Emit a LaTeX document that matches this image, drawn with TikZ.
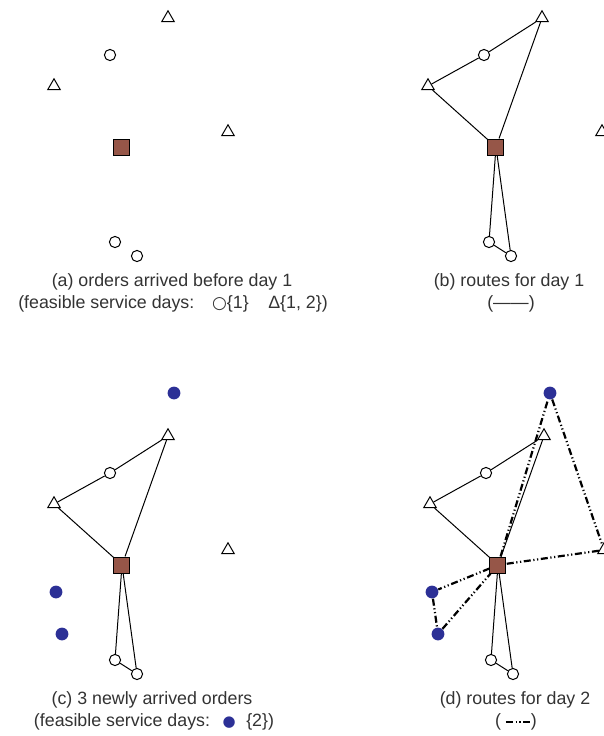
\documentclass[tikz,border=0pt]{standalone}
\usepackage{fontspec}
\setmainfont{Liberation Sans}
\newfontfamily\symfont{DejaVu Sans}
\usetikzlibrary{shapes.geometric}
\usetikzlibrary{calc}

\begin{document}
\begin{tikzpicture}[x=0.5pt,y=-0.5pt,
  font=\fontsize{8.9}{11}\selectfont,
  caption/.style={text=black!80},
  tri/.style={draw,regular polygon,regular polygon sides=3,inner sep=0pt,minimum size=7.2pt,fill=white,line width=0.5pt},
  circ/.style={draw,circle,inner sep=0pt,minimum size=5.6pt,fill=white,line width=0.5pt},
  depot/.style={draw,rectangle,inner sep=0pt,minimum size=8pt,fill=Brick,line width=0.5pt},
  neworder/.style={circle,inner sep=0pt,minimum size=6.4pt,fill=Navy},
  route1/.style={line width=0.5pt},
  route2/.style={line width=1.1pt,dash pattern=on 3.5pt off 1.3pt on 0.6pt off 1.3pt on 0.6pt off 1.3pt}]
\definecolor{Brick}{RGB}{150,86,72}
\definecolor{Navy}{RGB}{44,48,150}

\useasboundingbox (0,0) rectangle (604,736);

% orders known before day 1, one copy per panel
\foreach \p/\dx/\dy in {a/0/0,b/374/0,c/0/418,d/376/418}{
\begin{scope}[shift={(\dx,\dy)}]
  \node[tri]   (\p T1) at (168,18) {};
  \node[circ]  (\p C1) at (110,55) {};
  \node[tri]   (\p T2) at (54,86) {};
  \node[tri]   (\p T3) at (228,132) {};
  \node[depot] (\p D)  at (122,147) {};
  \node[circ]  (\p C2) at (115,242) {};
  \node[circ]  (\p C3) at (137,256) {};
\end{scope}
}

% newly arrived orders
\foreach \p/\dx/\dy in {c/0/418,d/376/418}{
\begin{scope}[shift={(\dx,\dy)}]
  \node[neworder] (\p N1) at (174,-25) {};
  \node[neworder] (\p N2) at (56,174) {};
  \node[neworder] (\p N3) at (62,216) {};
\end{scope}
}

% routes for day 1
\foreach \p in {b,c,d}{
  \draw[route1] (\p D) -- (\p T2) -- (\p C1) -- (\p T1) -- (\p D);
  \draw[route1] (\p D) -- (\p C2) -- (\p C3) -- (\p D);
}

% routes for day 2
\draw[route2] (dD) -- (dN1) -- (dT3) -- (dD);
\draw[route2] (dD) -- (dN2) -- (dN3) -- (dD);

% captions
\node[caption] (capa) at (172,282) {(a) orders arrived before day 1};
\node[caption] (lega) at (173,304) {(feasible service days:\hspace{1em}{\symfont\fontsize{8.5}{11}\selectfont ○}\{1\}\hspace{1.1em}Δ\{1, 2\})};
\node[caption] (capb) at (509,282) {(b) routes for day 1};
\node[caption] (legb) at (511,304) {(——)};
\node[caption] (capc) at (152,700) {(c) 3 newly arrived orders};
\node[caption] (legc) at (154,722) {(feasible service days:\hspace{0.7em}{\symfont\color{Navy}\fontsize{7.5}{11}\selectfont ●}\hspace{0.6em}\{2\})};
\node[caption] (capd) at (515,700) {(d) routes for day 2};
\node[caption] (legd) at (516,722) {(\hspace{15pt})};
\draw[route2] ($(legd.center)+(-10,0)$) -- ($(legd.center)+(14,0)$);

\end{tikzpicture}
\end{document}
